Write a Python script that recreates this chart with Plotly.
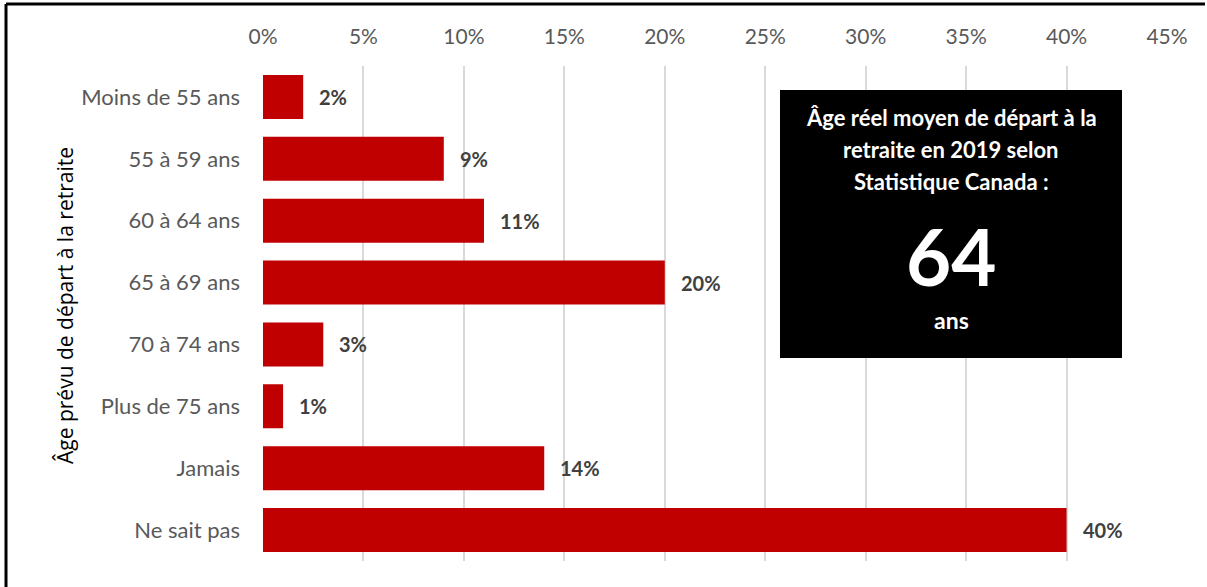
import plotly.graph_objects as go

categories = ["Moins de 55 ans", "55 à 59 ans", "60 à 64 ans", "65 à 69 ans",
              "70 à 74 ans", "Plus de 75 ans", "Jamais", "Ne sait pas"]
values = [2, 9, 11, 20, 3, 1, 14, 40]
tick_vals = [0, 5, 10, 15, 20, 25, 30, 35, 40, 45]
tick_text = [f"{v}%" for v in tick_vals]
box_lines = ["Âge réel moyen de départ à la", "retraite en 2019 selon", "Statistique Canada :"]
box_number = "64"
box_unit = "ans"

FONT = "Lato"
W, H = 1207, 587
L, R, T, B = 263, 40, 66, 26
pw, ph = W - L - R, H - T - B

def px_x(x):
    return (x - L) / pw

def px_y(y):
    return (H - B - y) / ph

fig = go.Figure()
fig.add_trace(go.Bar(
    x=values, y=categories, orientation="h",
    marker=dict(color="#C00000", line=dict(width=0)),
    width=0.71, hoverinfo="skip",
))

for c, v in zip(categories, values):
    fig.add_annotation(x=v, y=c, text=f"<b>{v}%</b>", showarrow=False,
                       xanchor="left", xshift=14,
                       font=dict(family=FONT, size=20, color="#404040"))

# black info box
fig.add_shape(type="rect", xref="paper", yref="paper",
              x0=px_x(780), x1=px_x(1122), y0=px_y(358), y1=px_y(90),
              fillcolor="black", line=dict(width=0), layer="above")
cx = px_x(951)
for txt, y in zip(box_lines, [117, 149, 182]):
    fig.add_annotation(xref="paper", yref="paper", x=cx, y=px_y(y),
                       xanchor="center", yanchor="middle",
                       text=f"<b>{txt}</b>", showarrow=False,
                       font=dict(family=FONT, size=22, color="white"))
fig.add_annotation(xref="paper", yref="paper", x=cx, y=px_y(256),
                   xanchor="center", yanchor="middle",
                   text=f"<b>{box_number}</b>", showarrow=False,
                   font=dict(family=FONT, size=78, color="white"))
fig.add_annotation(xref="paper", yref="paper", x=cx, y=px_y(320),
                   xanchor="center", yanchor="middle",
                   text=f"<b>{box_unit}</b>", showarrow=False,
                   font=dict(family=FONT, size=23, color="white"))

# outer border (left and top edges)
fig.add_shape(type="line", xref="paper", yref="paper",
              x0=px_x(6), x1=px_x(1205), y0=px_y(4), y1=px_y(4),
              line=dict(color="black", width=3))
fig.add_shape(type="line", xref="paper", yref="paper",
              x0=px_x(6), x1=px_x(6), y0=px_y(4), y1=px_y(595),
              line=dict(color="black", width=3))

# y-axis title as annotation for precise placement
fig.add_annotation(xref="paper", yref="paper", x=px_x(65), y=px_y(306),
                   xanchor="center", yanchor="middle", textangle=-90,
                   text="Âge prévu de départ à la retraite", showarrow=False,
                   font=dict(family="Open Sans", size=21, color="black"))

fig.update_layout(
    width=W, height=H,
    margin=dict(l=L, r=R, t=T, b=B, pad=0),
    paper_bgcolor="white", plot_bgcolor="white",
    showlegend=False, bargap=0.29,
    xaxis=dict(side="top", range=[0, 45], tickvals=tick_vals, ticktext=tick_text,
               showgrid=True, gridcolor="#D9D9D9", gridwidth=2,
               zeroline=False, showline=False, ticks="",
               ticklabelstandoff=17,
               tickfont=dict(family=FONT, size=21, color="#595959")),
    yaxis=dict(autorange="reversed", showgrid=False, zeroline=False, showline=False,
               ticks="", ticklabelstandoff=22,
               tickfont=dict(family=FONT, size=22, color="#595959")),
)

fig.write_html("out.html", config={"displayModeBar": False},
               post_script="document.body.style.margin='0';document.documentElement.style.margin='0';")
